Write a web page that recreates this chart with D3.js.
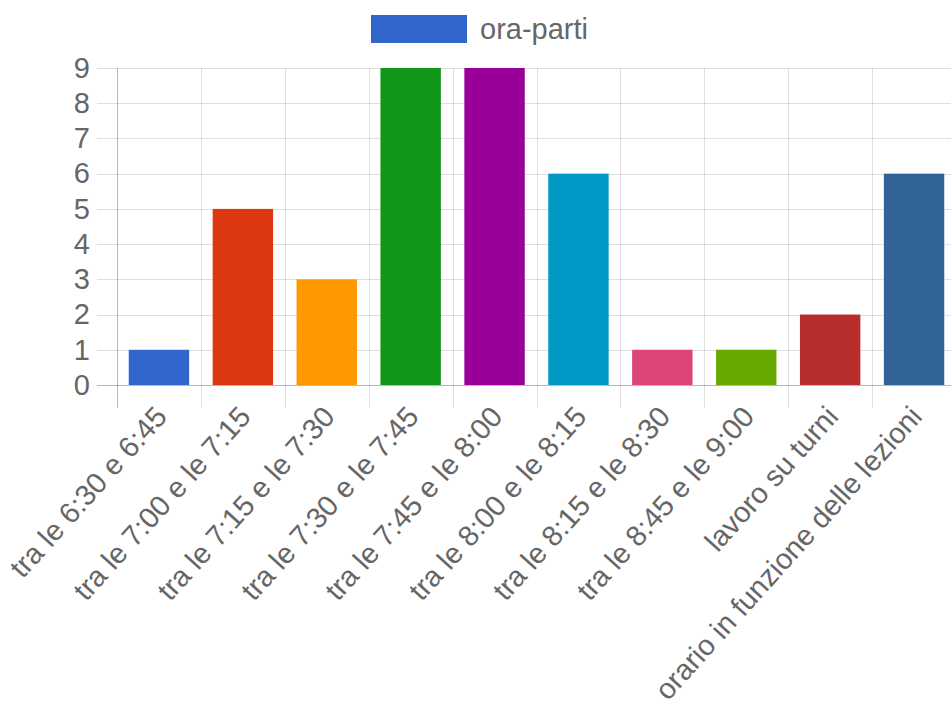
<!DOCTYPE html>
<html>
<head>
<meta charset="utf-8">
<script src="https://cdn.jsdelivr.net/npm/d3@7"></script>
<style>
  html, body { margin: 0; padding: 0; background: #fff; }
  svg { display: block; }
  text { font-family: "Liberation Sans", Arial, sans-serif; fill: #666; }
</style>
</head>
<body>
<svg id="chart" width="951" height="711"></svg>
<script>
const categories = [
  "tra le 6:30 e 6:45",
  "tra le 7:00 e le 7:15",
  "tra le 7:15 e le 7:30",
  "tra le 7:30 e le 7:45",
  "tra le 7:45 e le 8:00",
  "tra le 8:00 e le 8:15",
  "tra le 8:15 e le 8:30",
  "tra le 8:45 e le 9:00",
  "lavoro su turni",
  "orario in funzione delle lezioni"
];
const values = [1, 5, 3, 9, 9, 6, 1, 1, 2, 6];
const barColors = ["#3366CC", "#DC3912", "#FF9900", "#109618", "#990099",
                   "#0099C6", "#DD4477", "#66AA00", "#B82E2E", "#316395"];
const yTicks = [0, 1, 2, 3, 4, 5, 6, 7, 8, 9];
const seriesName = "ora-parti";

const svg = d3.select("#chart");
const plotLeft = 117, plotRight = 956, plotTop = 68, plotBottom = 385;
const fontSize = 29;

const x = d3.scaleBand().domain(categories).range([plotLeft, plotRight]).padding(0);
const y = d3.scaleLinear().domain([0, 9]).range([plotBottom, plotTop]);

// horizontal grid
svg.append("g").selectAll("line").data(yTicks).join("line")
  .attr("x1", plotLeft - 20).attr("x2", plotRight)
  .attr("y1", d => Math.round(y(d)) + 0.5).attr("y2", d => Math.round(y(d)) + 0.5)
  .attr("stroke", d => d === 0 ? "rgba(0,0,0,0.28)" : "rgba(0,0,0,0.12)")
  .attr("stroke-width", 1);

// vertical grid (category boundaries)
const bounds = categories.map(c => x(c));
svg.append("g").selectAll("line").data(bounds).join("line")
  .attr("x1", d => Math.round(d) + 0.5).attr("x2", d => Math.round(d) + 0.5)
  .attr("y1", plotTop).attr("y2", plotBottom + 23)
  .attr("stroke", (d, i) => i === 0 ? "rgba(0,0,0,0.28)" : "rgba(0,0,0,0.12)")
  .attr("stroke-width", 1);

// y axis labels
const yAxis = d3.axisLeft(y).tickValues(yTicks).tickSize(0).tickPadding(27);
const gy = svg.append("g").attr("transform", `translate(${plotLeft},0)`).call(yAxis);
gy.select(".domain").remove();
gy.selectAll("text").style("font-size", fontSize + "px").attr("fill", "#666")
  .attr("font-family", '"Liberation Sans", Arial, sans-serif');

// bars
const bw = x.bandwidth() * 0.72;
svg.append("g").selectAll("rect").data(values).join("rect")
  .attr("x", (d, i) => x(categories[i]) + (x.bandwidth() - bw) / 2)
  .attr("width", bw)
  .attr("y", d => y(d))
  .attr("height", d => y(0) - y(d))
  .attr("fill", (d, i) => barColors[i]);

// x axis labels
const xAxis = d3.axisBottom(x).tickSize(0).tickPadding(0);
const gx = svg.append("g").attr("transform", `translate(0,${plotBottom})`).call(xAxis);
gx.select(".domain").remove();
gx.selectAll(".tick text")
  .style("font-size", fontSize + "px")
  .attr("fill", "#666")
  .attr("font-family", '"Liberation Sans", Arial, sans-serif')
  .attr("text-anchor", "end")
  .attr("y", 0).attr("dy", "0.35em")
  .attr("transform", "translate(2,26) rotate(-48)");

// legend
const lg = svg.append("g");
lg.append("rect").attr("x", 371).attr("y", 15).attr("width", 96).attr("height", 28)
  .attr("fill", barColors[0]);
lg.append("text").attr("x", 480).attr("y", 29).attr("dy", "0.35em")
  .style("font-size", fontSize + "px").text(seriesName);
</script>
</body>
</html>
